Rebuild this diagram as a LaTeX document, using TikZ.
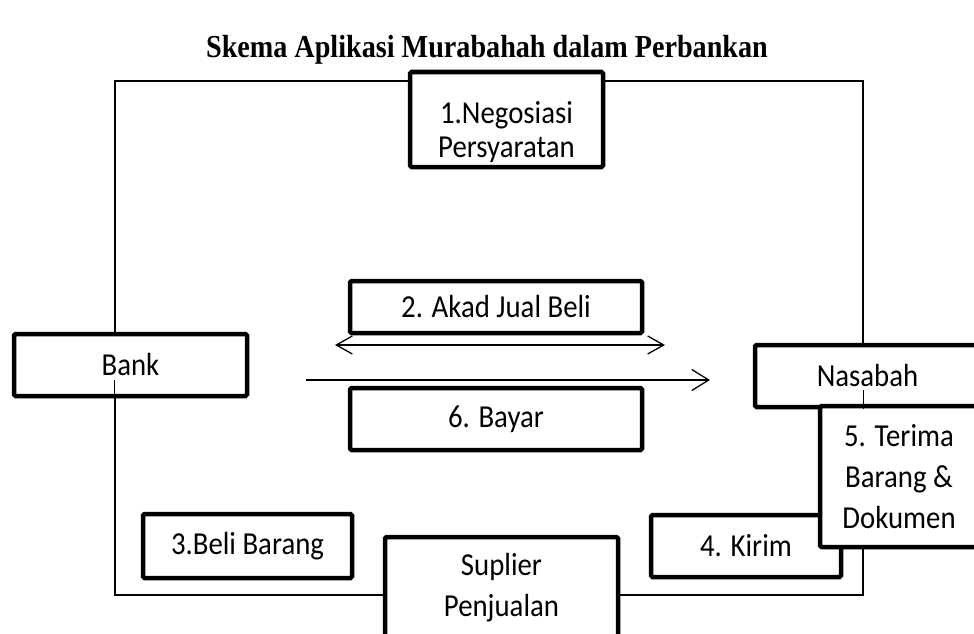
\documentclass[tikz,border=0pt]{standalone}
\usepackage{fontspec}
\setmainfont{Carlito}[FakeStretch=0.9]
\newfontfamily\titlefont{Liberation Serif}[FakeStretch=0.88]
\usetikzlibrary{arrows.meta}

\begin{document}
\begin{tikzpicture}[x=1pt, y=-1pt]

% styles
\pgfkeys{/frame/.style={draw, line width=1.3pt, inner sep=0}} % thin outer frame
\pgfkeys{/box/.style={draw, line width=4.5pt, fill=white, rounded corners=1.5pt, inner sep=0, align=center, font=\fontsize{32}{41}\selectfont}} % step boxes
\pgfkeys{/flow/.style={line width=1.3pt, -{Straight Barb[length=17pt, width=21pt]}}} % one way arrow
\pgfkeys{/dualflow/.style={line width=1.3pt, {Straight Barb[length=16pt, width=18pt]}-{Straight Barb[length=16pt, width=18pt]}}} % two way arrow

\useasboundingbox (0,0) rectangle (974,634);

% title
\node[font=\titlefont\bfseries\fontsize{32}{36}\selectfont, anchor=base] (title) at (487,57) {Skema Aplikasi Murabahah dalam Perbankan};

% outer frame
\node[/frame, minimum width=748, minimum height=514] (frame) at (489,338) {};

% steps on the frame
\node[/box, minimum width=193, minimum height=95, font=\fontsize{32}{34}\selectfont] (nego) at (506.5,119.5) {\rule{0pt}{48pt}1.Negosiasi\\Persyaratan};
\node[/box, minimum width=233, minimum height=62] (bank) at (130.5,365) {Bank};
\node[/box, minimum width=225, minimum height=62] (nasabah) at (867.5,376) {Nasabah};
\node[/box, minimum width=209, minimum height=64] (beli) at (247.5,546) {3.Beli Barang};
\node[/box, minimum width=233, minimum height=102] (suplier) at (501.5,588) {Suplier\\Penjualan};
\node[/box, minimum width=190, minimum height=62] (kirim) at (746,546) {4. Kirim};
\node[/box, minimum width=158, minimum height=141] (terima) at (899,476.5) {5. Terima\\Barang \&\\Dokumen};

% frame showing through the lower part of two boxes
\draw[line width=1.3pt] (frame.west |- bank.south) -- ++(0,-18);
\draw[line width=1.3pt] (frame.east |- nasabah.south) -- ++(0,-19);

% contract and payment
\node[/box, minimum width=292, minimum height=52] (akad) at (496,307) {2. Akad Jual Beli};
\node[/box, minimum width=292, minimum height=62] (bayar) at (496,419) {6. Bayar};

\coordinate (akadL) at (335,345);
\coordinate (akadR) at (665,345);
\coordinate (bayarL) at (306,380);
\coordinate (bayarR) at (710,380);
\draw[/dualflow] (akadL) -- (akadR);
\draw[/flow] (bayarL) -- (bayarR);

\end{tikzpicture}
\end{document}
